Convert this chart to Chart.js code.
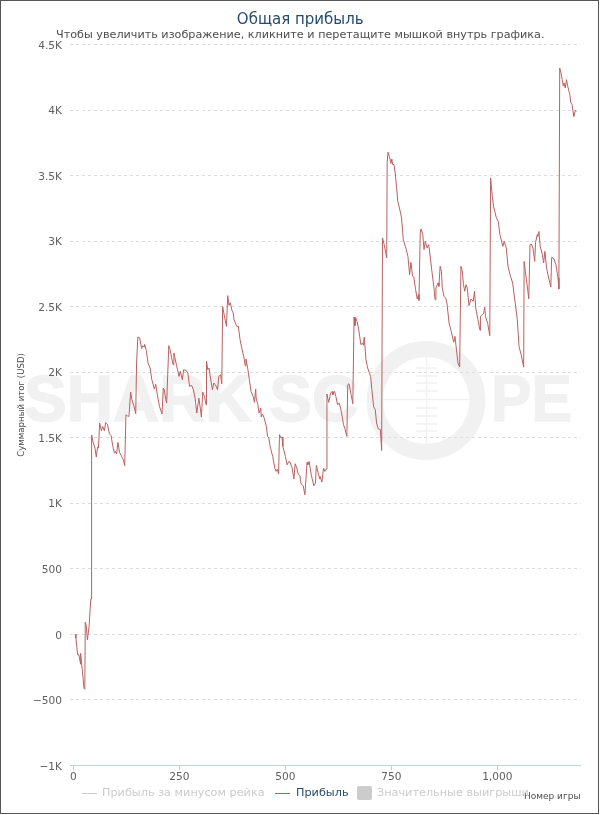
<!DOCTYPE html>
<html>
<head>
<meta charset="utf-8">
<title>Общая прибыль</title>
<script src="https://cdn.jsdelivr.net/npm/chart.js@4"></script>
<style>
  html, body { margin: 0; padding: 0; background: #fff; }
  #wrap { position: relative; width: 600px; height: 815px; overflow: hidden; }
  #frame { position: absolute; left: 0; top: 0; width: 597px; height: 812px; border: 1px solid #555; pointer-events: none; }
  .leg { position: absolute; top: 786px; font: 11.25px "DejaVu Sans", sans-serif; white-space: nowrap; color: #ccc; }
  .swatch { position: absolute; }
</style>
</head>
<body>
<div id="wrap">
  <canvas id="chart" width="600" height="815"></canvas>
  <div id="frame"></div>
  <div class="swatch" style="left:82px;top:793px;width:15px;height:1px;background:#ccc"></div>
  <div class="leg" style="left:102px">Прибыль за минусом рейка</div>
  <div class="swatch" style="left:275px;top:793px;width:15px;height:1px;background:#b85c5c"></div>
  <div class="leg" style="left:296px;color:#274b6d">Прибыль</div>
  <div class="swatch" style="left:357px;top:786px;width:15px;height:14px;background:#ccc;border-radius:2px"></div>
  <div class="leg" style="left:377px">Значительные выигрыши</div>
</div>
<script>
const gameNumbers = [
  4, 6, 10, 13, 17, 17, 21, 25, 27, 28, 30, 33, 37, 41, 43, 43, 47, 51, 54, 57,
  59, 62, 66, 69, 73, 76, 80, 85, 89, 93, 97, 99, 102, 105, 109, 113, 118, 121, 124, 127,
  131, 135, 138, 143, 147, 149, 152, 156, 161, 164, 167, 168, 172, 176, 181, 185, 191, 194, 198, 203,
  209, 212, 214, 218, 220, 225, 228, 235, 237, 243, 249, 252, 257, 260, 266, 270, 274, 279, 283, 287,
  291, 296, 302, 305, 309, 313, 314, 317, 320, 324, 328, 331, 335, 340, 343, 347, 350, 352, 356, 361,
  364, 367, 370, 374, 377, 379, 385, 389, 393, 397, 403, 405, 407, 411, 415, 419, 424, 427, 430, 431,
  435, 438, 442, 443, 446, 450, 455, 458, 461, 464, 470, 475, 478, 481, 484, 486, 490, 492, 494, 500,
  504, 508, 511, 516, 520, 523, 527, 530, 534, 537, 542, 546, 551, 553, 556, 561, 567, 571, 573, 577,
  581, 582, 586, 590, 593, 596, 598, 602, 607, 610, 612, 616, 619, 623, 627, 630, 634, 637, 640, 645,
  647, 650, 655, 659, 662, 664, 666, 669, 673, 678, 682, 684, 686, 690, 694, 701, 704, 708, 712, 715,
  719, 724, 727, 729, 733, 739, 740, 742, 745, 749, 751, 753, 756, 759, 762, 765, 769, 774, 778, 785,
  789, 793, 796, 800, 803, 807, 811, 814, 815, 818, 820, 824, 827, 830, 834, 838, 842, 845, 850, 853,
  855, 860, 862, 865, 868, 870, 874, 878, 881, 886, 891, 897, 900, 903, 907, 911, 914, 917, 920, 923,
  926, 929, 933, 938, 943, 946, 949, 954, 959, 960, 964, 968, 970, 972, 977, 982, 984, 988, 991, 997,
  1002, 1006, 1013, 1016, 1021, 1025, 1031, 1036, 1039, 1043, 1047, 1051, 1056, 1062, 1063, 1066, 1071, 1074, 1077, 1080,
  1084, 1088, 1090, 1094, 1095, 1098, 1101, 1106, 1109, 1112, 1116, 1121, 1126, 1128, 1133, 1138, 1143, 1145, 1147, 1150,
  1153, 1155, 1157, 1160, 1163, 1166, 1171, 1173, 1176, 1179, 1180, 1184, 1186
];
const profit = [
  0, -30, -157, -157, -229, -145, -272, -412, -420, 92, 72, -43, 59, 268, 268, 1520, 1459, 1420, 1352, 1428,
  1420, 1611, 1553, 1586, 1553, 1616, 1604, 1530, 1515, 1433, 1382, 1395, 1377, 1464, 1387, 1362, 1331, 1286, 1675, 1667,
  1662, 1848, 1790, 1739, 1683, 2070, 2268, 2263, 2181, 2202, 2192, 2212, 2166, 2070, 2031, 1942, 1871, 1909, 1828, 1739,
  1680, 1878, 1871, 1790, 1764, 2202, 2171, 2057, 2146, 2057, 1968, 2006, 1942, 2019, 2013, 1993, 1891, 1899, 1866, 1802,
  1688, 1802, 1657, 1848, 1815, 1751, 2082, 2019, 2031, 1942, 1866, 1917, 1904, 1866, 1968, 1980, 1912, 2500, 2430, 2350,
  2584, 2510, 2530, 2470, 2450, 2400, 2350, 2350, 2250, 2185, 2100, 2049, 2100, 2032, 1942, 1853, 1815, 1769, 1871, 1802,
  1752, 1688, 1726, 1657, 1680, 1650, 1586, 1510, 1497, 1433, 1357, 1268, 1243, 1260, 1222, 1523, 1497, 1505, 1433, 1357,
  1293, 1319, 1314, 1268, 1184, 1301, 1268, 1222, 1212, 1148, 1133, 1064, 1311, 1293, 1319, 1217, 1133, 1153, 1288, 1235,
  1184, 1204, 1161, 1268, 1243, 1260, 1833, 1769, 1841, 1853, 1828, 1853, 1815, 1752, 1764, 1726, 1663, 1599, 1573, 1510,
  1904, 1912, 1828, 1759, 2421, 2355, 2413, 2388, 2324, 2210, 2222, 2205, 2268, 2095, 2032, 1968, 1866, 1739, 1713, 1612,
  1568, 1561, 1403, 3024, 2973, 2871, 3597, 3678, 3648, 3592, 3627, 3584, 3584, 3520, 3419, 3304, 3253, 3177, 3012, 2935,
  2884, 2744, 2838, 2732, 2726, 2630, 2558, 2592, 2548, 3062, 3093, 3050, 2935, 2999, 2948, 2973, 2871, 2783, 2655, 2553,
  2642, 2681, 2655, 2808, 2770, 2642, 2579, 2566, 2528, 2375, 2312, 2228, 2273, 2184, 2070, 2039, 2808, 2777, 2668, 2617,
  2668, 2642, 2508, 2558, 2541, 2617, 2490, 2401, 2319, 2426, 2438, 2451, 2497, 2425, 2374, 2278, 3482, 3342, 3265, 3184,
  3151, 3049, 2960, 2998, 2947, 2807, 2731, 2680, 2603, 2502, 2400, 2196, 2133, 2038, 2845, 2769, 2642, 2560, 2973, 2978,
  2947, 2845, 2990, 3049, 3036, 3074, 2960, 2896, 2833, 2922, 2794, 2718, 2649, 2876, 2866, 2820, 2718, 2634, 4321, 4283,
  4232, 4186, 4207, 4169, 4232, 4181, 4118, 4059, 4041, 3978, 3952, 3998, 3990
];
const xTickValues = [0, 250, 500, 750, 1000];
const xTickLabels = ['0', '250', '500', '750', '1,000'];
const yTickValues = [-1000, -500, 0, 500, 1000, 1500, 2000, 2500, 3000, 3500, 4000, 4500];
const yTickLabels = ['−1K', '−500', '0', '500', '1K', '1.5K', '2K', '2.5K', '3K', '3.5K', '4K', '4.5K'];

const FONT = '"DejaVu Sans", sans-serif';

// SharkScope watermark behind the grid
const watermark = {
  id: 'watermark',
  beforeDraw(chart) {
    const ctx = chart.ctx;
    ctx.save();
    ctx.fillStyle = '#f1f1f1';
    ctx.strokeStyle = '#f1f1f1';
    ctx.font = 'bold 64px "Liberation Sans", sans-serif';
    ctx.textBaseline = 'alphabetic';
    ctx.lineWidth = 1.5;
    ctx.fillText('SHARK SC', 24, 421);
    ctx.strokeText('SHARK SC', 24, 421);
    ctx.fillText('PE', 491, 421, 81);
    ctx.strokeText('PE', 491, 421, 81);
    ctx.lineWidth = 16;
    ctx.beginPath();
    ctx.arc(426, 400.5, 51.4, 0, Math.PI * 2);
    ctx.stroke();
    ctx.lineWidth = 1.5;
    ctx.beginPath();
    ctx.moveTo(382, 399.5);
    ctx.lineTo(469, 399.5);
    ctx.moveTo(426.5, 357);
    ctx.lineTo(426.5, 444);
    for (const tickY of [368, 376, 383, 391, 408, 416, 424, 431]) {
      ctx.moveTo(416, tickY);
      ctx.lineTo(437, tickY);
    }
    ctx.stroke();
    ctx.restore();
  }
};

new Chart(document.getElementById('chart'), {
  type: 'line',
  data: {
    datasets: [{
      label: 'Прибыль',
      data: gameNumbers.map((g, i) => ({ x: g, y: profit[i] })),
      borderColor: '#bb6060',
      borderWidth: 1,
      pointRadius: 0,
      tension: 0,
      fill: false
    }]
  },
  options: {
    responsive: false,
    animation: false,
    layout: { padding: { left: 20, right: 19.5, top: 0, bottom: 0 } },
    plugins: {
      legend: { display: false },
      tooltip: { enabled: false },
      title: {
        display: true,
        text: 'Общая прибыль',
        color: '#274b6d',
        font: { family: FONT, size: 15, weight: 'normal' },
        padding: { top: 11, bottom: -0.7 }
      },
      subtitle: {
        display: true,
        text: 'Чтобы увеличить изображение, кликните и перетащите мышкой внутрь графика.',
        color: '#4d4d4d',
        font: { family: FONT, size: 11.2 },
        padding: { top: 0, bottom: 2.8 }
      }
    },
    scales: {
      x: {
        type: 'linear',
        min: -8,
        max: 1196,
        afterFit: s => { s.height = 49.7; },
        afterBuildTicks: s => { s.ticks = xTickValues.map(v => ({ value: v })); },
        grid: { drawOnChartArea: false, drawTicks: true, tickLength: 5, color: '#c0d0e0' },
        border: { color: '#c0d0e0', width: 1 },
        ticks: {
          maxRotation: 0,
          padding: 1,
          color: '#606060',
          font: { family: FONT, size: 10.6 },
          callback: v => xTickLabels[xTickValues.indexOf(v)]
        },
        title: {
          display: true,
          text: 'Номер игры',
          align: 'end',
          color: '#4d4d4d',
          font: { family: FONT, size: 9 },
          padding: { top: 0, bottom: 12.5 }
        }
      },
      y: {
        min: -1000,
        max: 4500,
        afterFit: s => { s.width = 50; },
        afterBuildTicks: s => { s.ticks = yTickValues.map(v => ({ value: v })); },
        grid: {
          drawTicks: false,
          color: '#dddddd'
        },
        border: { display: false, dash: [3, 3] },
        ticks: {
          padding: 8,
          color: '#606060',
          // empty first line nudges the label down a bit
          font: { family: FONT, size: 10.6, lineHeight: '3px' },
          callback: v => ['', yTickLabels[yTickValues.indexOf(v)]]
        },
        title: {
          display: true,
          text: 'Суммарный итог (USD)',
          color: '#4d4d4d',
          font: { family: FONT, size: 8.6 },
          padding: { top: -3, bottom: 0 }
        }
      }
    }
  },
  plugins: [watermark]
});
</script>
</body>
</html>
